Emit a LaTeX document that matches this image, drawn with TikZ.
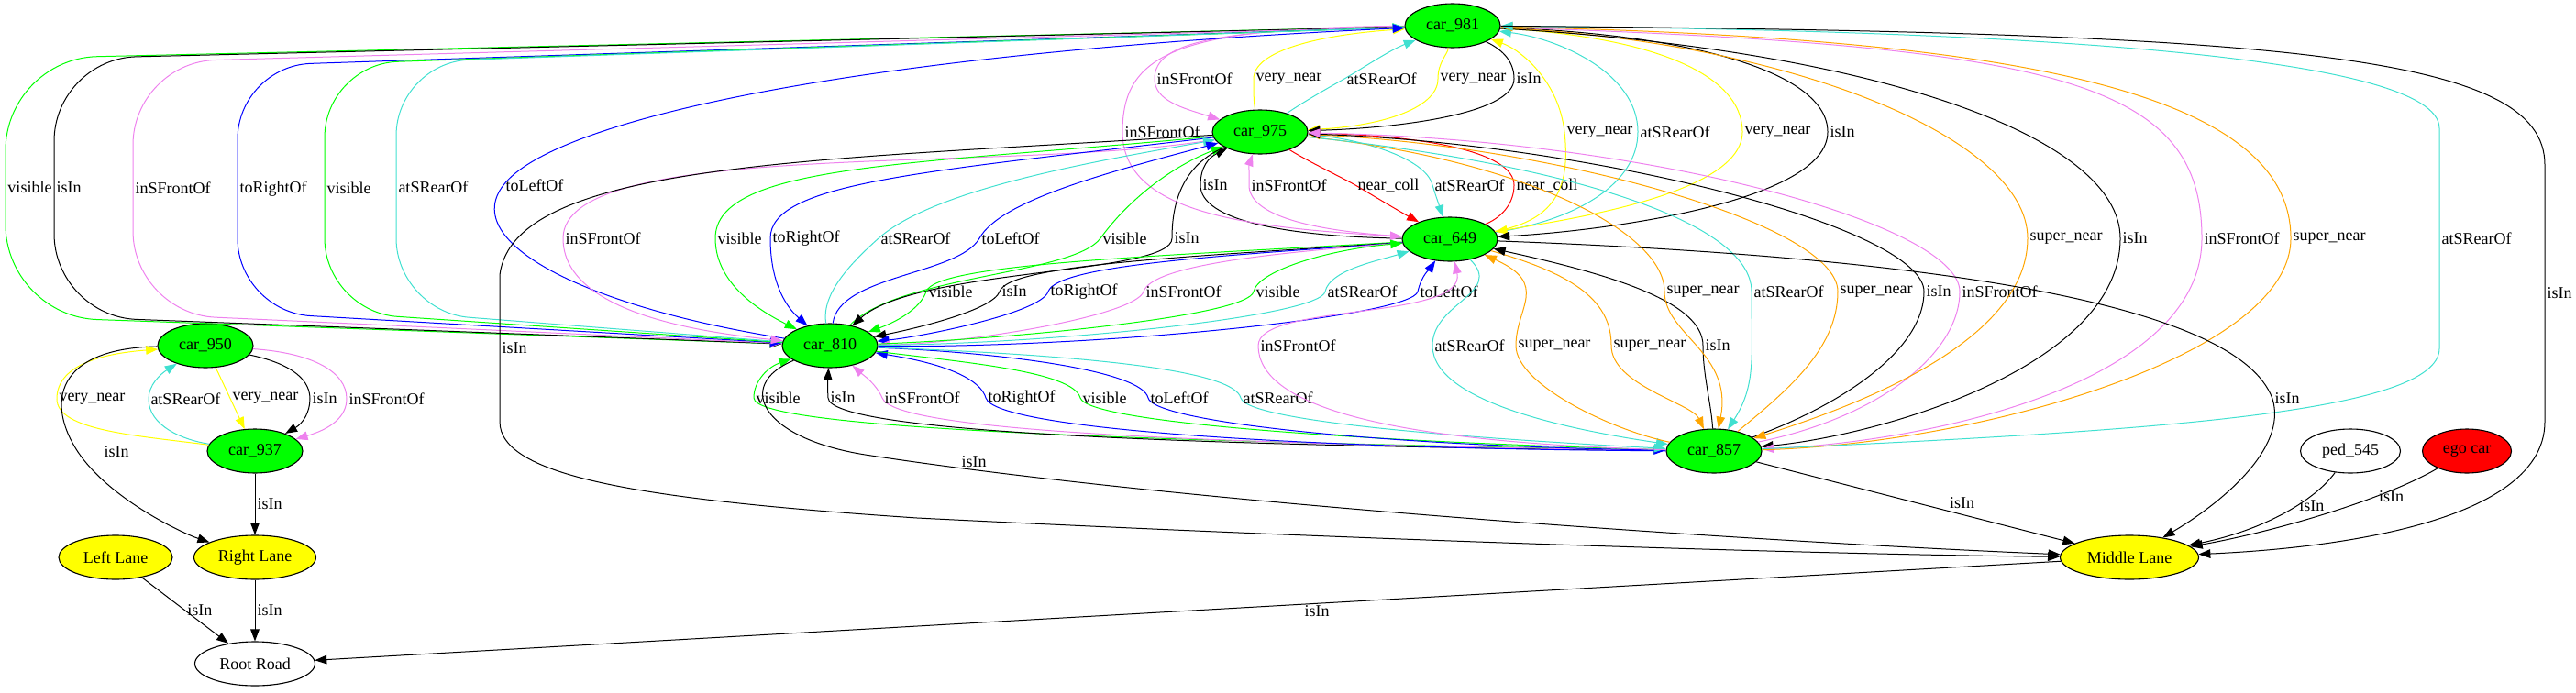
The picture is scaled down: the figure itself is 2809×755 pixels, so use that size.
\documentclass[tikz,border=0pt]{standalone}
\usepackage{fontspec}
\setmainfont{Liberation Serif}
\usetikzlibrary{shapes.geometric,arrows.meta}
\definecolor{gvgreen}{RGB}{0,255,0}
\definecolor{gvyellow}{RGB}{255,255,0}
\definecolor{gvviolet}{RGB}{238,130,238}
\definecolor{gvturq}{RGB}{64,224,208}
\definecolor{gvorange}{RGB}{255,165,0}
\definecolor{gvblue}{RGB}{0,0,255}
\definecolor{gvred}{RGB}{255,0,0}
\newcommand{\gvfont}{\fontsize{9}{10}\selectfont}

\begin{document}
\begin{tikzpicture}[x=0.5pt,y=-0.5pt,
    gnode/.style={ellipse, draw, line width=0.55pt, inner sep=0pt, minimum height=24pt, font=\gvfont},
    car/.style={gnode, fill=gvgreen, minimum width=52pt},
    lane/.style={gnode, fill=gvyellow},
    plain/.style={gnode, fill=white},
    egocar/.style={gnode, fill=gvred, minimum width=48.5pt},
    link/.style={line width=0.5pt, -{Triangle[length=6.5pt,width=4.8pt]}},
    lbl/.style={font=\gvfont, inner sep=1pt, anchor=west, text=black},
    isin/.style={link, draw=black},
    visib/.style={link, draw=gvgreen},
    front/.style={link, draw=gvviolet},
    rear/.style={link, draw=gvturq},
    rightof/.style={link, draw=gvblue},
    leftof/.style={link, draw=gvblue},
    vnear/.style={link, draw=gvyellow},
    snear/.style={link, draw=gvorange},
    ncoll/.style={link, draw=gvred}]
\useasboundingbox (0,0) rectangle (2809,755);

\node[car] (c981) at (1584,28) {car\_981};
\node[car] (c975) at (1374,144) {car\_975};
\node[car] (c649) at (1581,261) {car\_649};
\node[car] (c810) at (905,377) {car\_810};
\node[car] (c950) at (224,377) {car\_950};
\node[car] (c937) at (278,492) {car\_937};
\node[car] (c857) at (1869,492) {car\_857};
\node[plain, minimum width=54.5pt] (p545) at (2563,492) {ped\_545};
\node[egocar] (ego) at (2690,492) {ego car};
\node[lane, minimum width=62pt] (lleft) at (126,608) {Left Lane};
\node[lane, minimum width=66.5pt] (lright) at (278,608) {Right Lane};
\node[lane, minimum width=75.5pt] (lmid) at (2322,608) {Middle Lane};
\node[plain, minimum width=65.5pt] (root) at (278,724) {Root Road};

% car_981 / car_975
\draw[front] (c981) .. controls (1330,32) and (1259,45) .. (1259,86) node[lbl]{inSFrontOf} .. controls (1259,110) and (1290,118) .. (c975);
\draw[vnear] (c975) .. controls (1367,112) and (1367,100) .. (1367,86) node[lbl]{very\_near} .. controls (1367,55) and (1440,38) .. (c981);
\draw[rear] (c975) .. controls (1420,112) and (1448,96) .. (1466,86) node[lbl]{atSRearOf} .. controls (1490,72) and (1515,55) .. (c981);
\draw[vnear] (c981) .. controls (1578,60) and (1568,68) .. (1568,86) node[lbl]{very\_near} .. controls (1568,120) and (1500,138) .. (c975);
\draw[isin] (c981) .. controls (1640,55) and (1651,68) .. (1651,86) node[lbl]{isIn} .. controls (1651,125) and (1520,140) .. (c975);

% car_975 / car_649
\draw[isin] (c649) .. controls (1400,258) and (1309,240) .. (1309,202) node[lbl]{isIn} .. controls (1309,182) and (1318,172) .. (c975);
\draw[front] (c649) .. controls (1430,252) and (1362,235) .. (1362,202) node[lbl]{inSFrontOf} .. controls (1362,190) and (1362,180) .. (c975);
\draw[ncoll] (c975) .. controls (1430,178) and (1460,192) .. (1478,202) node[lbl]{near\_coll} .. controls (1500,215) and (1525,230) .. (c649);
\draw[rear] (c975) .. controls (1480,150) and (1555,172) .. (1562,202) node[lbl]{atSRearOf} .. controls (1566,215) and (1570,226) .. (c649);
\draw[ncoll] (c649) .. controls (1640,236) and (1651,220) .. (1651,202) node[lbl]{near\_coll} .. controls (1651,165) and (1550,148) .. (c975);

% car_981 / car_649
\draw[front] (c981) .. controls (1280,30) and (1224,60) .. (1224,144) node[lbl]{inSFrontOf} .. controls (1224,230) and (1350,248) .. (c649);
\draw[vnear] (c649) .. controls (1700,240) and (1712,200) .. (1706,144) node[lbl]{very\_near} .. controls (1700,90) and (1660,55) .. (c981);
\draw[rear] (c649) .. controls (1720,240) and (1786,200) .. (1786,144) node[lbl]{atSRearOf} .. controls (1786,80) and (1700,42) .. (c981);
\draw[vnear] (c981) .. controls (1800,40) and (1900,80) .. (1900,144) node[lbl]{very\_near} .. controls (1900,210) and (1720,238) .. (c649);
\draw[isin] (c981) .. controls (1850,38) and (1993,80) .. (1993,144) node[lbl]{isIn} .. controls (1993,220) and (1750,252) .. (c649);

% car_981 / car_810
\draw[visib, rounded corners=50pt] (c981) -- (6,64) -- node[lbl]{visible} (6,345) -- (c810);
\draw[isin, rounded corners=45pt] (c981) -- (59,64) -- node[lbl]{isIn} (59,345) -- (c810);
\draw[front, rounded corners=45pt] (c981) -- (145,68) -- node[lbl]{inSFrontOf} (145,342) -- (c810);
\draw[rightof, rounded corners=40pt] (c981) -- (259,72) -- node[lbl]{toRightOf} (259,340) -- (c810);
\draw[visib, rounded corners=40pt] (c810) -- (354,340) -- node[lbl]{visible} (354,70) -- (c981);
\draw[rear, rounded corners=40pt] (c810) -- (432,340) -- node[lbl]{atSRearOf} (432,68) -- (c981);
\draw[leftof] (c810) .. controls (640,335) and (500,265) .. (549,202) node[lbl]{toLeftOf} .. controls (600,135) and (900,60) .. (c981);

% car_975 / car_810
\draw[front] (c975) .. controls (1100,190) and (614,150) .. (614,260) node[lbl]{inSFrontOf} .. controls (614,340) and (760,362) .. (c810);
\draw[visib] (c975) .. controls (1000,180) and (780,178) .. (780,260) node[lbl]{visible} .. controls (780,310) and (830,340) .. (c810);
\draw[rightof] (c975) .. controls (1000,188) and (840,200) .. (840,260) node[lbl]{toRightOf} .. controls (840,300) and (852,330) .. (c810);
\draw[rear] (c810) .. controls (895,320) and (930,285) .. (958,260) node[lbl]{atSRearOf} .. controls (1020,205) and (1200,175) .. (c975);
\draw[leftof] (c810) .. controls (915,300) and (1045,300) .. (1068,260) node[lbl]{toLeftOf} .. controls (1090,220) and (1200,190) .. (c975);
\draw[visib] (c810) .. controls (980,300) and (1170,300) .. (1200,260) node[lbl]{visible} .. controls (1225,225) and (1270,185) .. (c975);
\draw[isin] (c975) .. controls (1290,180) and (1278,220) .. (1278,260) node[lbl]{isIn} .. controls (1278,300) and (1000,292) .. (c810);

% car_649 / car_810
\draw[visib] (c649) .. controls (1250,280) and (1020,288) .. (1010,318) node[lbl]{visible} .. controls (1003,338) and (975,352) .. (c810);
\draw[isin] (c649) .. controls (1300,280) and (1100,288) .. (1090,318) node[lbl]{isIn} .. controls (1083,338) and (1000,358) .. (c810);
\draw[rightof] (c649) .. controls (1350,278) and (1153,288) .. (1143,318) node[lbl]{toRightOf} .. controls (1135,342) and (1000,368) .. (c810);
\draw[front] (c649) .. controls (1400,275) and (1257,288) .. (1247,318) node[lbl]{inSFrontOf} .. controls (1238,345) and (1050,375) .. (c810);
\draw[visib] (c810) .. controls (1100,370) and (1362,345) .. (1367,318) node[lbl]{visible} .. controls (1372,295) and (1450,272) .. (c649);
\draw[rear] (c810) .. controls (1150,375) and (1440,345) .. (1445,318) node[lbl]{atSRearOf} .. controls (1450,295) and (1500,285) .. (c649);
\draw[leftof] (c810) .. controls (1200,380) and (1540,345) .. (1546,318) node[lbl]{toLeftOf} .. controls (1550,300) and (1560,292) .. (c649);

% car_810 / car_857
\draw[visib] (c857) .. controls (1300,482) and (822,470) .. (822,434) node[lbl]{visible} .. controls (822,415) and (838,400) .. (c810);
\draw[isin] (c857) .. controls (1300,486) and (905,472) .. (903,434) node[lbl]{isIn} .. controls (902,418) and (903,410) .. (c810);
\draw[front] (c857) .. controls (1300,484) and (975,470) .. (962,434) node[lbl]{inSFrontOf} .. controls (955,418) and (940,408) .. (c810);
\draw[rightof] (c857) .. controls (1450,490) and (1085,470) .. (1075,434) node[lbl]{toRightOf} .. controls (1066,405) and (1000,392) .. (c810);
\draw[visib] (c810) .. controls (1050,395) and (1170,405) .. (1178,434) node[lbl]{visible} .. controls (1186,462) and (1500,482) .. (c857);
\draw[leftof] (c810) .. controls (1100,385) and (1245,405) .. (1252,434) node[lbl]{toLeftOf} .. controls (1258,460) and (1500,486) .. (c857);
\draw[rear] (c810) .. controls (1200,388) and (1345,405) .. (1353,434) node[lbl]{atSRearOf} .. controls (1360,460) and (1600,478) .. (c857);

% car_649 / car_857
\draw[front] (c857) .. controls (1500,482) and (1372,440) .. (1372,377) node[lbl]{inSFrontOf} .. controls (1372,330) and (1600,350) .. (c649);
\draw[rear] (c649) .. controls (1640,320) and (1562,330) .. (1562,377) node[lbl]{atSRearOf} .. controls (1562,440) and (1720,470) .. (c857);
\draw[snear] (c857) .. controls (1760,470) and (1653,420) .. (1653,377) node[lbl]{super\_near} .. controls (1653,335) and (1690,310) .. (c649);
\draw[snear] (c649) .. controls (1720,300) and (1757,330) .. (1757,377) node[lbl]{super\_near} .. controls (1757,420) and (1845,440) .. (c857);
\draw[isin] (c857) .. controls (1866,440) and (1857,410) .. (1857,377) node[lbl]{isIn} .. controls (1857,330) and (1760,300) .. (c649);

% car_975 / car_857
\draw[snear] (c975) .. controls (1650,172) and (1815,250) .. (1815,318) node[lbl]{super\_near} .. controls (1815,365) and (1890,385) .. (c857);
\draw[rear] (c975) .. controls (1700,178) and (1910,240) .. (1910,318) node[lbl]{atSRearOf} .. controls (1910,390) and (1915,420) .. (c857);
\draw[snear] (c857) .. controls (1950,425) and (2004,380) .. (2004,318) node[lbl]{super\_near} .. controls (2004,245) and (1700,160) .. (c975);
\draw[isin] (c857) .. controls (2000,445) and (2098,385) .. (2098,318) node[lbl]{isIn} .. controls (2098,250) and (1750,158) .. (c975);
\draw[front] (c857) .. controls (2050,455) and (2137,385) .. (2137,318) node[lbl]{inSFrontOf} .. controls (2137,245) and (1800,152) .. (c975);

% car_981 / car_857
\draw[snear] (c981) .. controls (1950,45) and (2211,150) .. (2211,260) node[lbl]{super\_near} .. controls (2211,380) and (2000,450) .. (c857);
\draw[isin] (c981) .. controls (2050,55) and (2312,150) .. (2312,260) node[lbl]{isIn} .. controls (2312,400) and (2050,475) .. (c857);
\draw[front] (c981) .. controls (2250,50) and (2401,90) .. (2401,260) node[lbl]{inSFrontOf} .. controls (2401,420) and (2100,482) .. (c857);
\draw[snear] (c857) .. controls (2150,485) and (2498,390) .. (2498,260) node[lbl]{super\_near} .. controls (2498,100) and (2200,42) .. (c981);
\draw[rear] (c857) .. controls (2350,470) and (2660,450) .. (2660,380) -- node[lbl]{atSRearOf} (2660,140) .. controls (2660,60) and (2200,33) .. (c981);

% car_950 / car_937
\draw[vnear] (c937) .. controls (150,475) and (62,470) .. (62,435) node[lbl]{very\_near} .. controls (62,395) and (120,385) .. (c950);
\draw[rear] (c937) .. controls (200,480) and (162,465) .. (162,435) node[lbl]{atSRearOf} .. controls (162,420) and (175,408) .. (c950);
\draw[vnear] (c950) -- node[lbl]{very\_near} (c937);
\draw[isin] (c950) .. controls (310,395) and (338,410) .. (338,435) node[lbl]{isIn} .. controls (338,450) and (330,462) .. (c937);
\draw[front] (c950) .. controls (340,385) and (378,405) .. (378,435) node[lbl]{inSFrontOf} .. controls (378,455) and (360,468) .. (c937);

% lanes and road
\draw[isin] (c950) .. controls (60,380) and (50,440) .. (85,493) node[lbl, xshift=13pt]{isIn} .. controls (120,545) and (200,582) .. (lright);
\draw[isin] (c937) -- node[lbl]{isIn} (lright);
\draw[isin] (lleft) -- node[lbl]{isIn} (root);
\draw[isin] (lright) -- node[lbl]{isIn} (root);
\draw[isin] (lmid) -- node[lbl, pos=0.426, anchor=north]{isIn} (root);
\draw[isin] (c857) -- node[lbl, pos=0.6, anchor=south west]{isIn} (lmid);
\draw[isin] (p545) .. controls (2525,545) and (2470,578) .. node[lbl, pos=0.4]{isIn} (lmid);
\draw[isin] (ego) .. controls (2600,545) and (2480,580) .. node[lbl, pos=0.3]{isIn} (lmid);
\draw[isin] (c649) .. controls (2100,280) and (2440,330) .. (2478,435) node[lbl]{isIn} .. controls (2495,490) and (2420,550) .. (lmid);
\draw[isin] (c981) .. controls (2500,35) and (2775,60) .. (2775,180) -- node[lbl]{isIn} (2775,460) .. controls (2775,580) and (2500,600) .. (lmid);
\draw[isin] (c810) .. controls (800,420) and (830,480) .. (950,497) .. controls (1300,550) and (1900,590) .. node[lbl, pos=0.1, anchor=south]{isIn} (lmid);
\draw[isin] (c975) .. controls (900,175) and (560,175) .. (545,300) -- node[lbl]{isIn} (545,460) .. controls (545,520) and (700,545) .. (1000,565) .. controls (1500,590) and (2000,605) .. (lmid);
\end{tikzpicture}
\end{document}
